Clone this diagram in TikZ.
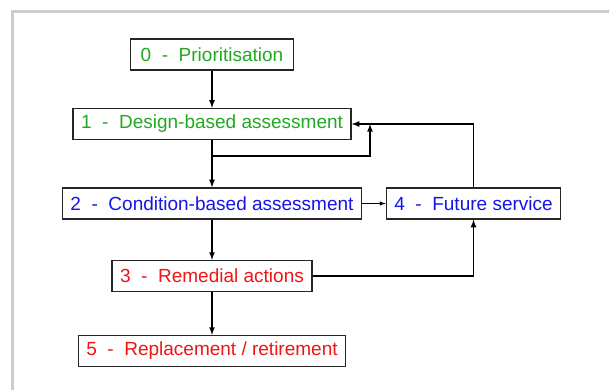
\documentclass[tikz,border=0pt]{standalone}
\usepackage{fontspec}
\setmainfont{Liberation Sans}
\usepackage{xcolor}
\usepackage{tikz}
\usetikzlibrary{positioning,calc}
\usetikzlibrary{arrows}

\definecolor{stagegreen}{RGB}{34,168,34}
\definecolor{stageblue}{RGB}{20,20,235}
\definecolor{stagered}{RGB}{240,20,20}

\tikzset{
    stage/.style={draw=black!85,line width=1.3pt,fill=white,
        minimum height=31pt,inner xsep=8pt,inner ysep=2pt,
        font=\fontsize{19}{22}\selectfont},
    link/.style={-latex,line width=1.6pt,black}
}

\begin{document}
\begin{tikzpicture}[x=1pt,y=-1pt]
    \useasboundingbox (0,0) rectangle (610,390);

    %light frame round the slide
    \draw[gray!40,line width=3.5pt] (12.5,390) -- (12.5,11.5) -- (609,11.5);

    %stages of the procedure, main column:
    \node[stage,text=stagegreen,minimum width=163pt] (prio)   at (212,54.5)  {0~~-~~Prioritisation};
    \node[stage,text=stagegreen,minimum width=278pt] (design) at (212,124)   {1~~-~~Design-based assessment};
    \node[stage,text=stageblue,minimum width=298pt]  (cond)   at (212,203.5) {2~~-~~Condition-based assessment};
    \node[stage,text=stagered,minimum width=200pt]   (remed)  at (212,276)   {3~~-~~Remedial actions};
    \node[stage,text=stagered,minimum width=265pt]   (repl)   at (212,351)   {5~~-~~Replacement / retirement};
    %side stage
    \node[stage,text=stageblue,minimum width=173pt]  (future) at (473.5,203.5) {4~~-~~Future service};

    %arrows down the column
    \draw[link] (prio) -- (design);
    \draw[link] (design) -- (cond);
    \draw[link] (cond) -- (remed);
    \draw[link] (remed) -- (repl);

    %loop back to the design stage
    \coordinate (split) at (212,156);
    \coordinate (join) at (370,124);
    \draw[link] (split) -| (join);
    \draw[link] (future) |- (design);

    %into the future service stage
    \draw[link,line width=1pt] (cond) -- (future);
    \draw[link] (remed) -| (future);
\end{tikzpicture}
\end{document}
